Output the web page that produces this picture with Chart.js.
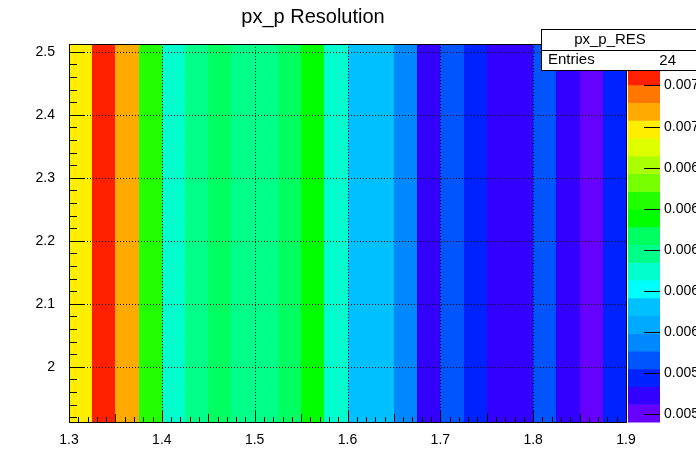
<!DOCTYPE html>
<html lang="en">
<head>
<meta charset="UTF-8">
<title>px_p Resolution</title>
<style>
  html, body { margin: 0; padding: 0; background: #fff; }
  #wrap { width: 696px; height: 471px; position: relative; }
</style>
</head>
<body>
<script src="https://cdn.jsdelivr.net/npm/chart.js"></script>
<div id="wrap"><canvas id="myChart" width="696" height="471"></canvas></div>
<script>
// bin edges along p (x), one bin along y
var xLow = 1.3, xHigh = 1.9, nBins = 24
var yLow = 1.9125, yHigh = 2.5125
// resolution per bin
var binValues = [0.007088, 0.007347, 0.007174, 0.006742, 0.006396, 0.006482, 0.006569, 0.006482,
                 0.006482, 0.006569, 0.006655, 0.006396, 0.006223, 0.006223, 0.006050, 0.005790,
                 0.005963, 0.005877, 0.005790, 0.005790, 0.005963, 0.005790, 0.005703, 0.005877]
var zMin = 0.00566, zMax = 0.00739
var palette = ['#6600ff', '#3300ff', '#0022ff', '#0055ff', '#0088ff', '#00aaff', '#00c0ff', '#00ffff',
               '#00ffcc', '#00ff88', '#00ff60', '#00ff00', '#22ff00', '#77ff00', '#aaff00', '#ddff00',
               '#ffee00', '#ffaa00', '#ff7700', '#ff2000']
var paletteTicks = [0.0057, 0.0059, 0.0061, 0.0063, 0.0065, 0.0067, 0.0069, 0.0071, 0.0073]
var xTicks = [1.3, 1.4, 1.5, 1.6, 1.7, 1.8, 1.9]
var yTicks = [2.0, 2.1, 2.2, 2.3, 2.4, 2.5]

function colourFor(v) {
  var i = Math.floor((v - zMin) / (zMax - zMin) * palette.length)
  return palette[Math.max(0, Math.min(palette.length - 1, i))]
}

var cells = binValues.map(function (v, i) {
  var w = (xHigh - xLow) / nBins
  return { x: [xLow + i * w, xLow + (i + 1) * w], y: [yLow, yHigh], v: v }
})

const rootPlot = {
  id: 'rootPlot',
  beforeDatasetsDraw(chart) {
    var c = chart.ctx, xs = chart.scales.x, ys = chart.scales.y
    cells.forEach(function (cell) {
      var x0 = xs.getPixelForValue(cell.x[0]), x1 = xs.getPixelForValue(cell.x[1])
      var y0 = ys.getPixelForValue(cell.y[1]), y1 = ys.getPixelForValue(cell.y[0])
      c.fillStyle = colourFor(cell.v)
      c.fillRect(Math.round(x0), y0, Math.round(x1) - Math.round(x0), y1 - y0)
    })
    // dotted grid
    c.save()
    c.strokeStyle = '#000'; c.lineWidth = 1; c.setLineDash([1, 2])
    var a = chart.chartArea
    xTicks.forEach(function (t) {
      var px = Math.round(xs.getPixelForValue(t)) + 0.5
      c.beginPath(); c.moveTo(px, a.top); c.lineTo(px, a.bottom); c.stroke()
    })
    yTicks.forEach(function (t) {
      var py = Math.round(ys.getPixelForValue(t)) + 0.5
      c.beginPath(); c.moveTo(a.left, py); c.lineTo(a.right, py); c.stroke()
    })
    c.restore()
  },
  afterDraw(chart) {
    var c = chart.ctx, xs = chart.scales.x, ys = chart.scales.y, a = chart.chartArea
    c.save()
    c.strokeStyle = '#000'; c.lineWidth = 1
    c.strokeRect(a.left + 0.5, a.top + 0.5, a.right - a.left, a.bottom - a.top)
    // inward ticks, major and minor
    c.beginPath()
    for (var k = 0; k <= 60; k++) {
      var v = 1.3 + k * 0.01
      var px = Math.round(xs.getPixelForValue(v)) + 0.5
      var len = k % 10 === 0 ? 11 : (k % 5 === 0 ? 8 : 5)
      c.moveTo(px, a.bottom); c.lineTo(px, a.bottom - len)
    }
    for (var k = -4; k <= 25; k++) {
      var v = 2.0 + k * 0.02
      if (v < yLow || v > yHigh) continue
      var py = Math.round(ys.getPixelForValue(v)) + 0.5
      var len = k % 5 === 0 ? 16 : 8
      c.moveTo(a.left, py); c.lineTo(a.left + len, py)
    }
    c.stroke()

    // palette
    var pl = 628, pr = 660, pt = 67, pb = a.bottom
    var h = (pb - pt) / palette.length
    palette.forEach(function (col, i) {
      c.fillStyle = col
      c.fillRect(pl, pb - (i + 1) * h, pr - pl, h + 0.5)
    })
    c.fillStyle = '#000'; c.font = '14px "Liberation Sans", Arial'
    c.textBaseline = 'middle'; c.textAlign = 'left'
    c.beginPath()
    paletteTicks.forEach(function (t) {
      var py = Math.round(pb - (t - zMin) / (zMax - zMin) * (pb - pt)) + 0.5
      c.moveTo(pr, py); c.lineTo(pr - 16, py)
      c.fillText(t.toFixed(4), pr + 4, py)
    })
    c.stroke()

    // stats box
    c.fillStyle = '#fff'
    c.fillRect(541, 29, 160, 41)
    c.strokeRect(541.5, 29.5, 160, 41)
    c.beginPath(); c.moveTo(541, 50.5); c.lineTo(700, 50.5); c.stroke()
    c.fillStyle = '#000'; c.font = '15px "Liberation Sans", Arial'
    c.textAlign = 'center'; c.fillText('px_p_RES', 610, 40)
    c.textAlign = 'left'; c.fillText('Entries', 548, 60)
    c.textAlign = 'right'; c.fillText('24', 676, 61)
    c.restore()
  }
}

var myChart = new Chart(document.getElementById('myChart'), {
  type: 'scatter',
  data: { datasets: [{ data: [], pointRadius: 0 }] },
  options: {
    responsive: false,
    animation: false,
    layout: { padding: { top: 0, right: 70, bottom: 0, left: 0 } },
    plugins: {
      legend: { display: false },
      tooltip: { enabled: false },
      title: {
        display: true, text: 'px_p Resolution', color: '#000',
        font: { family: '"Liberation Sans", Arial', size: 20, weight: 'normal' },
        padding: { top: 5, bottom: 15 }
      }
    },
    scales: {
      x: {
        type: 'linear', min: xLow, max: xHigh,
        afterBuildTicks: function (s) { s.ticks = xTicks.map(function (v) { return { value: v } }) },
        grid: { display: false }, border: { display: false },
        ticks: { color: '#000', font: { family: '"Liberation Sans", Arial', size: 14 }, padding: 2,
                 maxRotation: 0, callback: function (v) { return v.toFixed(1) } },
        afterFit: function (s) { s.height = 49 }
      },
      y: {
        type: 'linear', min: yLow, max: yHigh,
        afterBuildTicks: function (s) { s.ticks = yTicks.map(function (v) { return { value: v } }) },
        grid: { display: false }, border: { display: false },
        ticks: { color: '#000', font: { family: '"Liberation Sans", Arial', size: 14 }, padding: 6,
                 callback: function (v) { return v === 2 ? '2' : v.toFixed(1) } },
        afterFit: function (s) { s.width = 69 }
      }
    }
  },
  plugins: [rootPlot]
})
</script>
</body>
</html>
